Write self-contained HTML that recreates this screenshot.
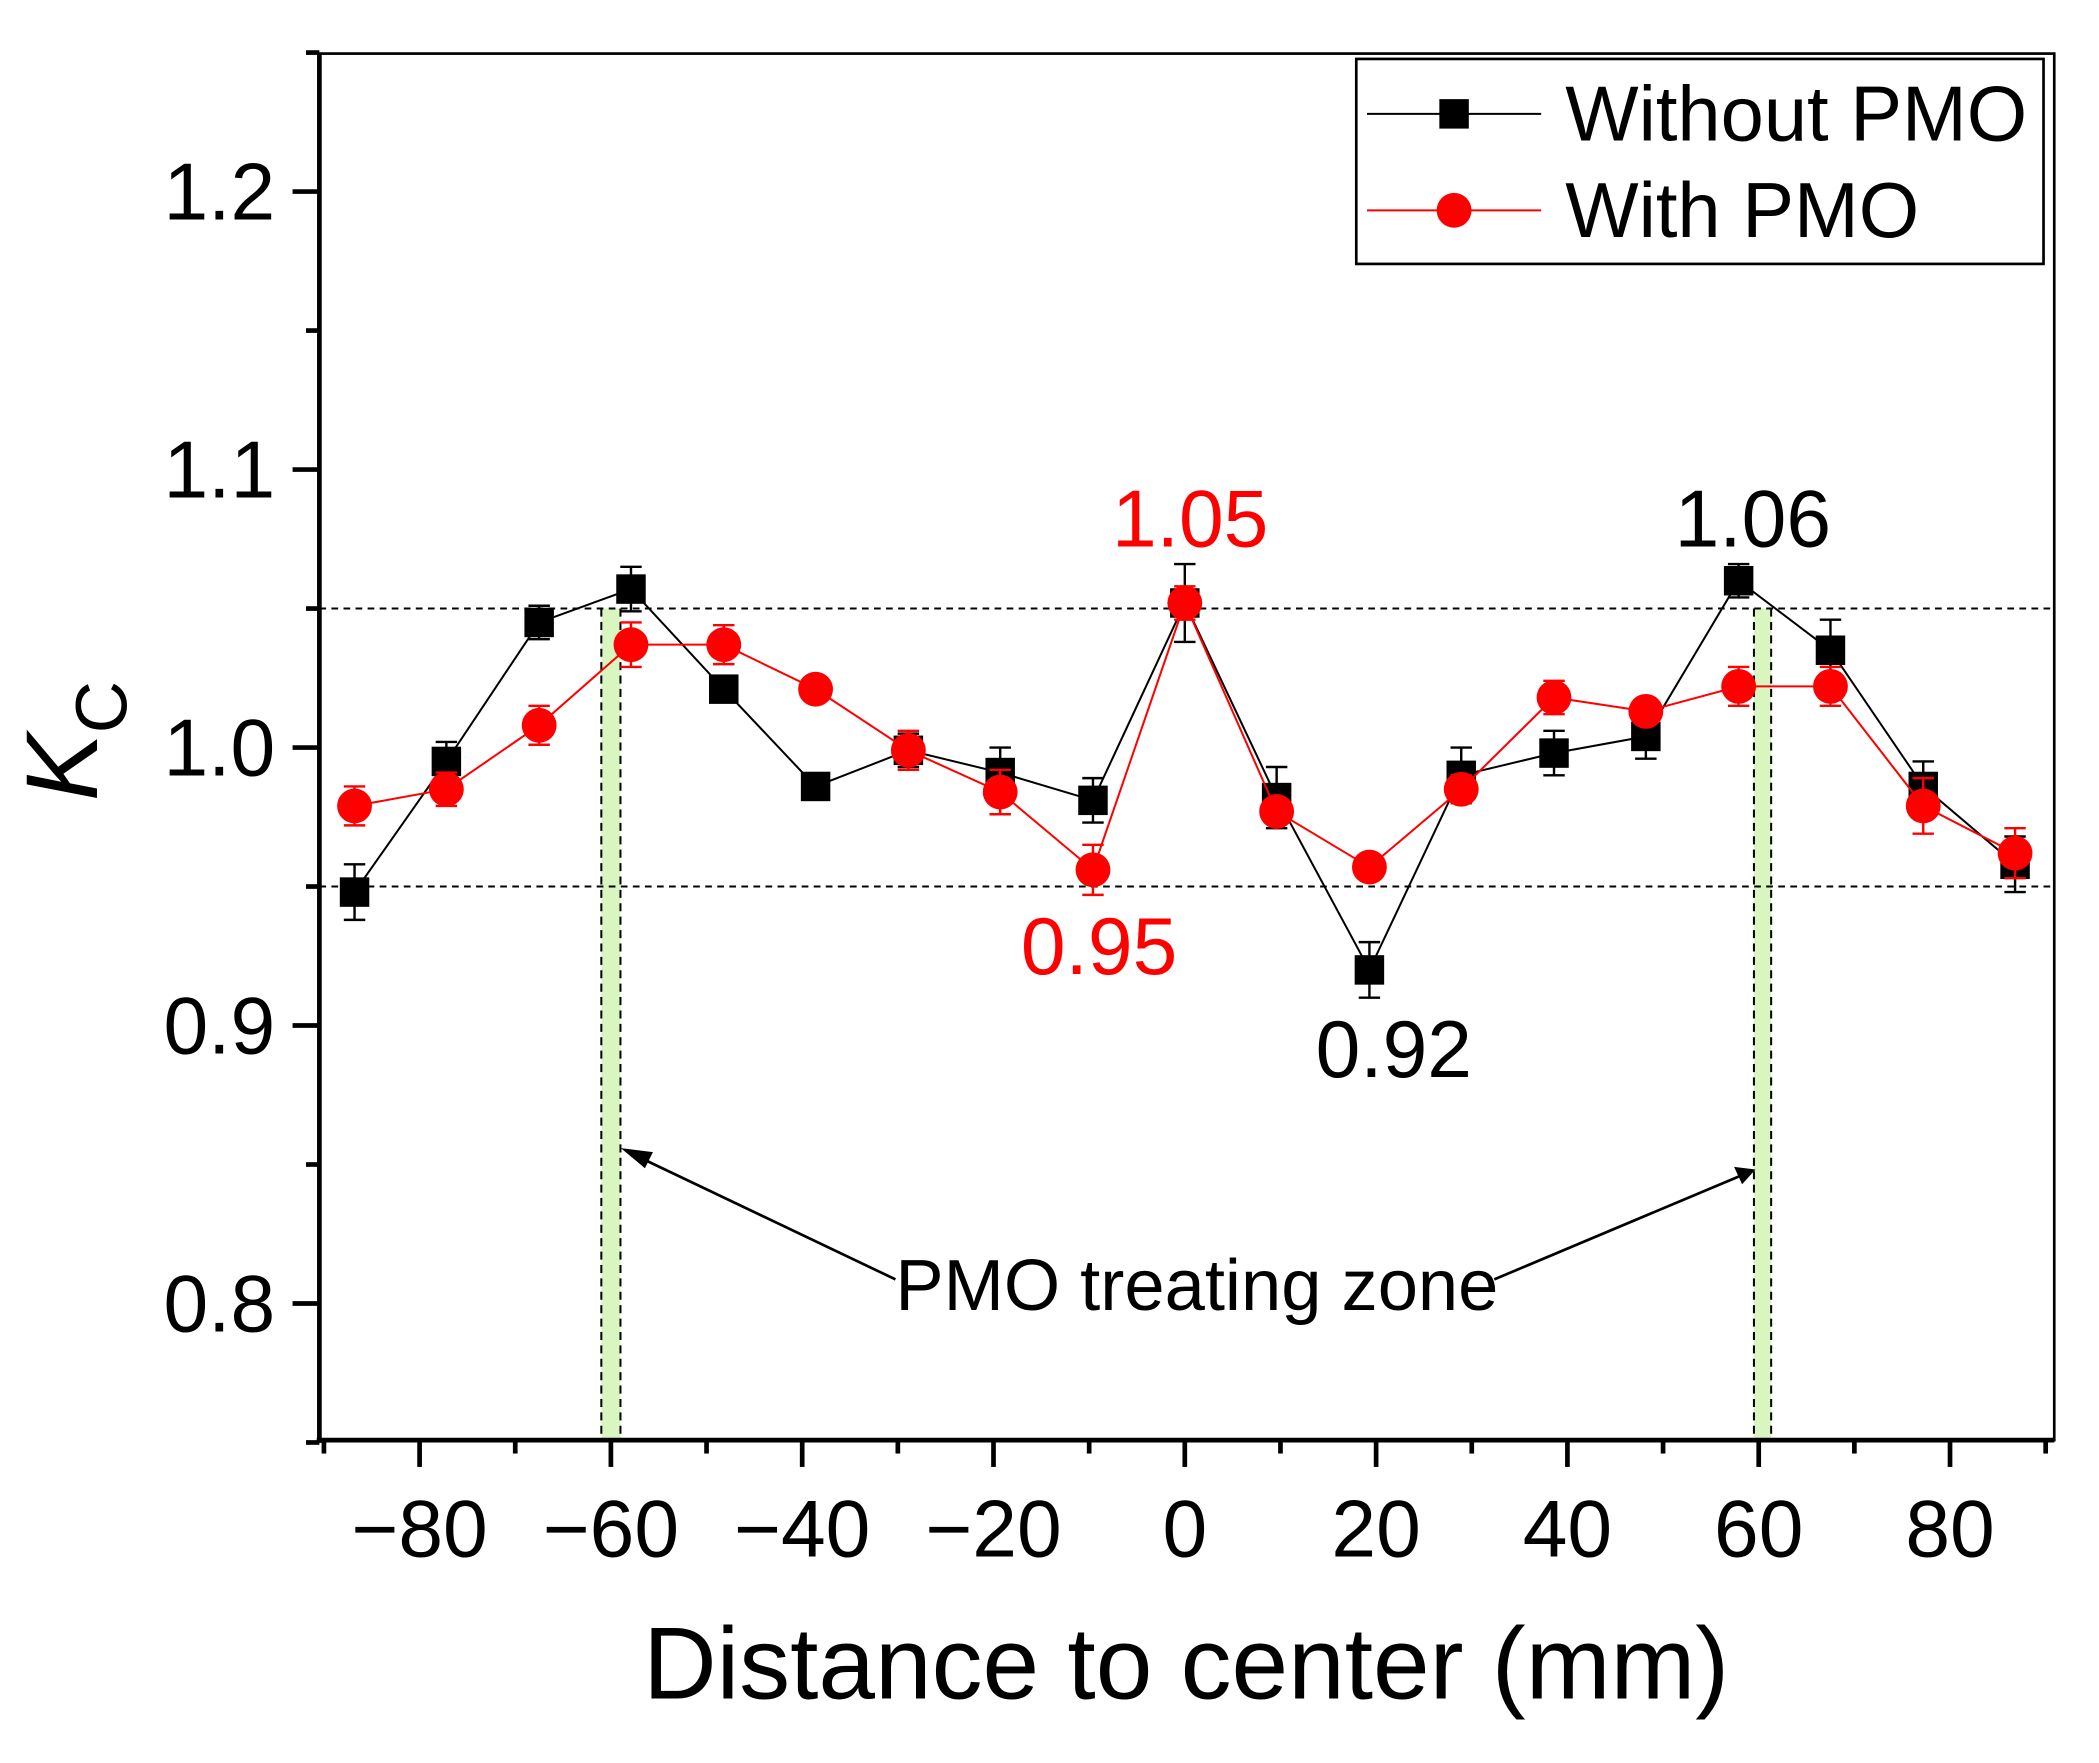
<!DOCTYPE html>
<html><head><meta charset="utf-8"><style>
html,body{margin:0;padding:0;background:#fff;}
svg{display:block;font-family:"Liberation Sans",Arial,sans-serif;}
</style></head><body>
<svg id="chart" width="2099" height="1763" viewBox="0 0 1566 1316" xmlns="http://www.w3.org/2000/svg">
<g id="zones"></g>
<g id="refs"></g>
<g id="series"></g>
<g id="axes"></g>
<g>
  <rect x="1012" y="44" width="513" height="153" fill="#fff" stroke="#000" stroke-width="2"/>
  <g>
    <line x1="1020" y1="85" x2="1150" y2="85" stroke="#000" stroke-width="1.5"/>
    <rect x="1074" y="74" width="22" height="22" fill="#000"/>
    <text x="1168" y="105" font-size="58">Without PMO</text>
  </g>
  <g>
    <line x1="1020" y1="157" x2="1150" y2="157" stroke="#f00" stroke-width="1.5"/>
    <circle cx="1085" cy="157" r="13" fill="#f00"/>
    <text x="1168" y="177" font-size="58">With PMO</text>
  </g>
</g>
<g>
  <text x="888" y="408" font-size="60" fill="#f00" text-anchor="middle">1.05</text>
  <text x="820" y="727" font-size="60" fill="#f00" text-anchor="middle">0.95</text>
  <text x="1040" y="804" font-size="60" fill="#000" text-anchor="middle">0.92</text>
  <text x="1308" y="408" font-size="60" fill="#000" text-anchor="middle">1.06</text>
  <text x="893" y="978" font-size="54" text-anchor="middle">PMO treating zone</text>
  <g>
    <line x1="668" y1="955" x2="475" y2="863" stroke="#000" stroke-width="2"/>
    <polygon points="463,857 487,860 481,872" fill="#000"/>
  </g>
  <g>
    <line x1="1115" y1="955" x2="1298" y2="878" stroke="#000" stroke-width="2"/>
    <polygon points="1310,873 1294,871 1300,884" fill="#000"/>
  </g>
</g>
<text x="885" y="1268" font-size="76" text-anchor="middle">Distance to center (mm)</text>
<g transform="translate(72,598) rotate(-90)">
  <text x="0" y="0" font-size="76" font-style="italic">K<tspan font-size="54" font-style="normal" dy="22">C</tspan></text>
</g>
</svg>
<script>
var categories = [-86.8,-77.2,-67.5,-57.9,-48.2,-38.6,-28.9,-19.3,-9.6,0,9.6,19.3,28.9,38.6,48.2,57.9,67.5,77.2,86.8];
var withoutVals = [0.948,0.995,1.045,1.057,1.021,0.986,0.999,0.991,0.981,1.052,0.982,0.920,0.990,0.998,1.004,1.060,1.035,0.986,0.958];
var withoutErr = [0.010,0.007,0.006,0.008,0.003,0.003,0.006,0.009,0.008,0.014,0.011,0.010,0.010,0.008,0.008,0.006,0.011,0.009,0.010];
var withVals = [0.979,0.985,1.008,1.037,1.037,1.021,0.999,0.984,0.956,1.052,0.977,0.957,0.985,1.018,1.013,1.022,1.022,0.979,0.962];
var withErr = [0.007,0.006,0.007,0.008,0.007,0.003,0.007,0.008,0.009,0.006,0.004,0.003,0.005,0.006,0.004,0.007,0.007,0.010,0.009];
var xTicks = [-80,-60,-40,-20,0,20,40,60,80];
var xTickLabels = ["\u221280","\u221260","\u221240","\u221220","0","20","40","60","80"];
var yTicks = [0.8,0.9,1.0,1.1,1.2];
var yTickLabels = ["0.8","0.9","1.0","1.1","1.2"];
var refLines = [1.05,0.95];
var zoneRanges = [[-61,-59],[59.5,61.3]];

var L=238,R=1533,T=40,B=1075;
function X(v){return 884+7.14*v;}
function Y(v){return 558-(v-1.0)*2075;}
var NS="http://www.w3.org/2000/svg";
function mk(tag,attrs,parent){var e=document.createElementNS(NS,tag);for(var k in attrs)e.setAttribute(k,attrs[k]);parent.appendChild(e);return e;}

var zones=document.getElementById('zones');
zoneRanges.forEach(function(z){
  var g=mk('g',{},zones);
  
  
  mk('rect',{x:X(z[0]),y:Y(1.05),width:X(z[1])-X(z[0]),height:B-Y(1.05),fill:'#d9f5c0'},g);
  mk('line',{x1:X(z[0]),y1:Y(1.05),x2:X(z[0]),y2:B,stroke:'#000','stroke-width':1.5,'stroke-dasharray':'6,4'},g);
  mk('line',{x1:X(z[1]),y1:Y(1.05),x2:X(z[1]),y2:B,stroke:'#000','stroke-width':1.5,'stroke-dasharray':'6,4'},g);
});
var refs=document.getElementById('refs');
refLines.forEach(function(v){
  var l=mk('line',{x1:L,y1:Y(v),x2:R,y2:Y(v),stroke:'#000','stroke-width':1.5,'stroke-dasharray':'5,4'},refs);
  
  
});

var series=document.getElementById('series');
function drawSeries(vals,errs,color,shape,name){
  var g=mk('g',{},series);
  
  
  var pts=categories.map(function(c,i){return X(c)+','+Y(vals[i]);}).join(' ');
  mk('polyline',{points:pts,fill:'none',stroke:color,'stroke-width':1.5},g);
  categories.forEach(function(c,i){
    var x=X(c),y1=Y(vals[i]+errs[i]),y2=Y(vals[i]-errs[i]);
    var eb=mk('path',{d:'M'+x+' '+y1+'V'+y2+'M'+(x-8)+' '+y1+'H'+(x+8)+'M'+(x-8)+' '+y2+'H'+(x+8),stroke:color,'stroke-width':1.8,fill:'none'},g);
    
    
    var m;
    if(shape==='square'){m=mk('rect',{x:x-11,y:Y(vals[i])-11,width:22,height:22,fill:color},g);}
    else{m=mk('circle',{cx:x,cy:Y(vals[i]),r:13,fill:color},g);}
    
    
  });
}
drawSeries(withoutVals,withoutErr,'#000','square','series-without-pmo');
drawSeries(withVals,withErr,'#f00','circle','series-with-pmo');

var axes=document.getElementById('axes');
mk('rect',{x:L,y:T,width:R-L,height:B-T,fill:'none',stroke:'#000','stroke-width':2},axes);
mk('line',{x1:L,y1:T,x2:L,y2:B+2,stroke:'#000','stroke-width':3.5},axes);
mk('line',{x1:L-2,y1:B,x2:R,y2:B,stroke:'#000','stroke-width':3.5},axes);
for(var v=-90;v<=90;v+=10){
  var major=(v%20===0);
  mk('line',{x1:X(v),y1:B,x2:X(v),y2:B+(major?20:10),stroke:'#000','stroke-width':3.5},axes);
}
xTicks.forEach(function(v,i){
  var t=mk('text',{x:X(v),y:1162,'font-size':60,'text-anchor':'middle'},axes);
  t.textContent=xTickLabels[i];
  
  
});
for(var k=0;k<=10;k++){
  var yv=0.75+k*0.05;var mj=(k%2===1);
  mk('line',{x1:L,y1:Y(yv),x2:L-(mj?20:10),y2:Y(yv),stroke:'#000','stroke-width':3.5},axes);
}
yTicks.forEach(function(v,i){
  var t=mk('text',{x:205,y:Y(v)+21,'font-size':60,'text-anchor':'end'},axes);
  t.textContent=yTickLabels[i];
  
  
});
</script>
</body></html>
